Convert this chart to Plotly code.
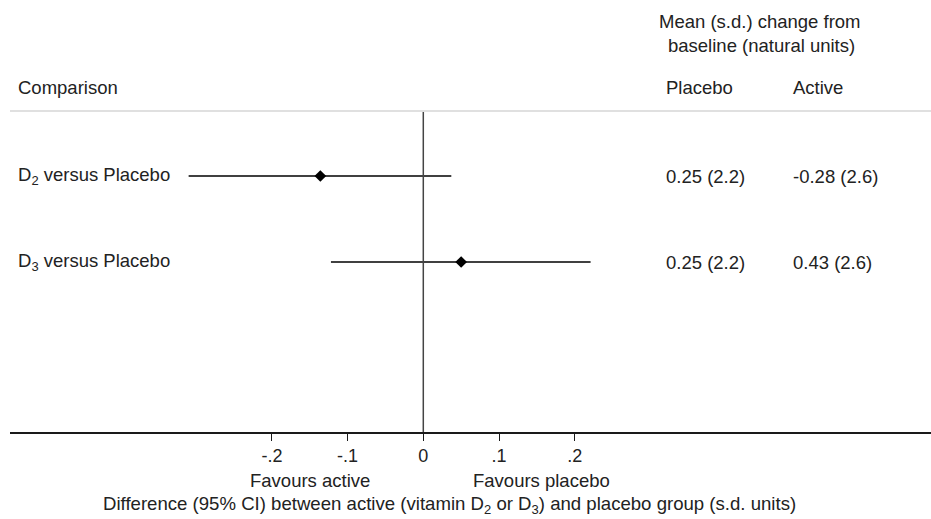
import plotly.graph_objects as go

# ---- data ----
comparisons = ["D<sub>2</sub> versus Placebo", "D<sub>3</sub> versus Placebo"]
estimates = [-0.136, 0.050]
ci_low = [-0.310, -0.122]
ci_high = [0.037, 0.221]
placebo_vals = ["0.25 (2.2)", "0.25 (2.2)"]
active_vals = ["-0.28 (2.6)", "0.43 (2.6)"]
tick_vals = [-0.2, -0.1, 0, 0.1, 0.2]
tick_text = ["-.2", "-.1", "0", ".1", ".2"]

rows = [1, 2]
FONT = "Liberation Sans, Arial, Helvetica, sans-serif"
TXT = "#222222"
FS = 18.5

fig = go.Figure()

# CI lines
for r, lo, hi in zip(rows, ci_low, ci_high):
    fig.add_trace(go.Scatter(x=[lo, hi], y=[r, r], mode="lines",
                             line=dict(color="black", width=1.3),
                             showlegend=False, hoverinfo="skip"))
# point estimates
fig.add_trace(go.Scatter(x=estimates, y=rows, mode="markers",
                         marker=dict(symbol="diamond", size=9, color="black"),
                         showlegend=False))

# y mapping: row 1 at 176px, row 2 at 262px, plot from 0 to 432px
y_top = 1 - 176 / 86
y_bot = 1 + (432 - 176) / 86
y_header_line = 1 + (111 - 176) / 86
y_vline_top = 1 + (112 - 176) / 86

# null line
fig.add_shape(type="line", x0=0, x1=0, y0=y_vline_top, y1=y_bot, xref="x", yref="y",
              line=dict(color="#444444", width=1.5))
# light header rule
fig.add_shape(type="line", x0=0, x1=1, xref="paper", y0=y_header_line, y1=y_header_line,
              yref="y", line=dict(color="#d6d6d6", width=1.5))

ann = []
def add_text(x, y, text, xref="paper", yref="y", xanchor="left", size=FS, yanchor="middle"):
    ann.append(dict(x=x, y=y, xref=xref, yref=yref, text=text, showarrow=False,
                    xanchor=xanchor, yanchor=yanchor,
                    font=dict(family=FONT, size=size, color=TXT)))

W = 921.0
def px(p):
    return (p - 10) / W

for r, c, pv, av in zip(rows, comparisons, placebo_vals, active_vals):
    add_text(px(16), r, c)
    add_text(px(664), r, pv)
    add_text(px(791), r, av)

y_hdr = 1 + (87 - 176) / 86
add_text(px(16), y_hdr, "Comparison")
add_text(px(664), y_hdr, "Placebo")
add_text(px(791), y_hdr, "Active")
add_text(px(760), 1 + (21 - 176) / 86, "Mean (s.d.) change from", xanchor="center")
add_text(px(761), 1 + (45 - 176) / 86, "baseline (natural units)", xanchor="center")

# below-axis labels (paper y)
H = 432.0
def py(p):
    return 1 - p / H
add_text(px(310), py(481), "Favours active", yref="paper", xanchor="center")
add_text(px(541), py(481), "Favours placebo", yref="paper", xanchor="center")
add_text(px(449), py(505),
         "Difference (95% CI) between active (vitamin D<sub>2</sub> or D<sub>3</sub>) and placebo group (s.d. units)",
         yref="paper", xanchor="center", size=18.6)

x_left = (10 - 423.3) / 757.0
x_right = x_left + W / 757.0

fig.update_layout(
    width=931, height=519,
    margin=dict(l=10, r=0, t=0, b=87),
    plot_bgcolor="white", paper_bgcolor="white",
    annotations=ann,
    xaxis=dict(range=[x_left, x_right], showgrid=False, zeroline=False,
               showline=True, linecolor="#1a1a1a", linewidth=1.5,
               ticks="outside", ticklen=7, tickcolor="#1a1a1a", tickwidth=1,
               tickvals=tick_vals, ticktext=tick_text,
               tickfont=dict(family=FONT, size=18, color=TXT)),
    yaxis=dict(range=[y_bot, y_top], visible=False, showgrid=False, zeroline=False),
    font=dict(family=FONT, color=TXT),
)

fig.write_html("out.html", config={"displayModeBar": False},
               post_script="document.body.style.margin='0';")
